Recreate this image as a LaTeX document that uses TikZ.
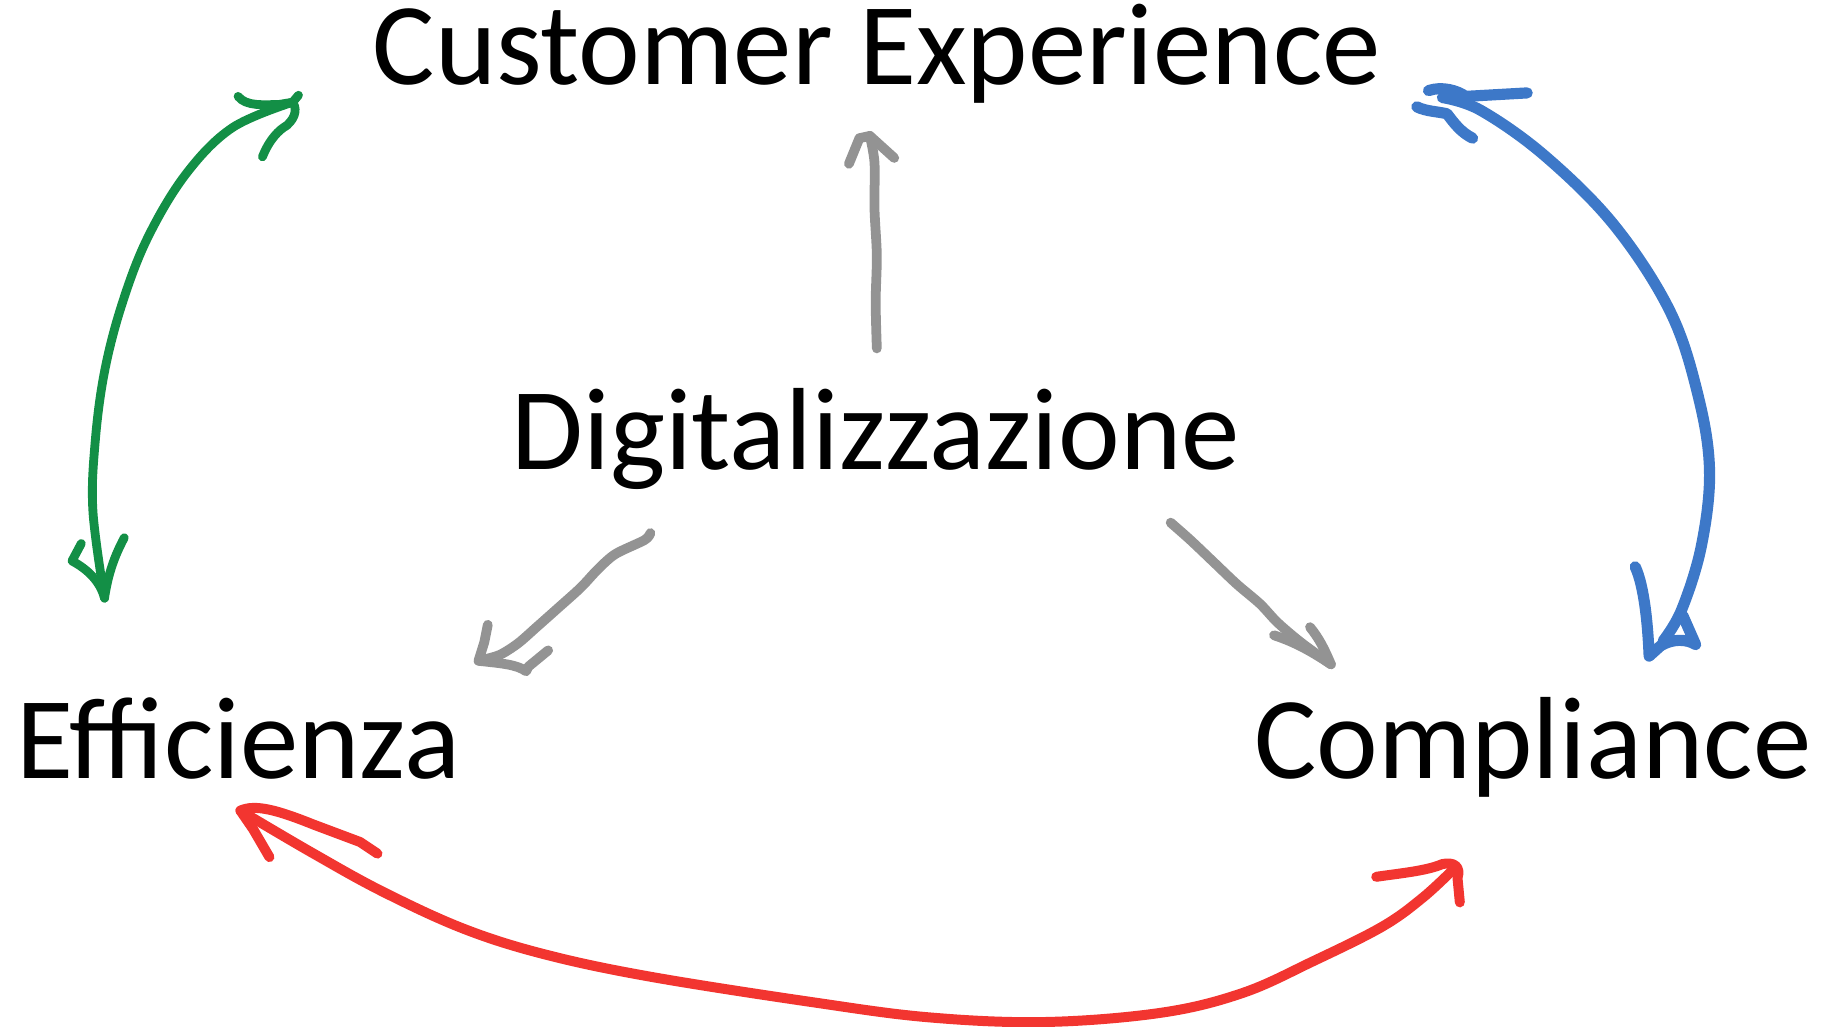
\documentclass[tikz,border=0pt]{standalone}
\usepackage{fontspec}
\setmainfont{Carlito}
\definecolor{cgreen}{HTML}{138F46}
\definecolor{cblue}{HTML}{3D78C8}
\definecolor{cred}{HTML}{F23530}
\definecolor{cgray}{HTML}{939393}
\tikzset{
  lbl/.style={font=\fontsize{50.3}{56}\selectfont, inner sep=0pt, anchor=base},
  gline/.style={cgreen, line width=3.8pt, line cap=round, line join=round},
  bline/.style={cblue, line width=4.8pt, line cap=round, line join=round},
  rline/.style={cred, line width=4.3pt, line cap=round, line join=round},
  kline/.style={cgray, line width=4.2pt, line cap=round, line join=round}
}
\begin{document}
\begin{tikzpicture}[x=0.5pt,y=-0.5pt]
\useasboundingbox (0,0) rectangle (1568,884);
% labels
\node[lbl] (ce) at (755,73) {Customer Experience};
\node[lbl] (dg) at (754,404) {Digitalizzazione};
\node[lbl] (ef) at (205,670) {Efficienza};
\node[lbl] (co) at (1320,670) {Compliance};
% endpoints
\coordinate (g1) at (90,515);
\coordinate (g2) at (252,88);
\coordinate (b1) at (1242,84);
\coordinate (b2) at (1432,552);
\coordinate (r1) at (207,698);
\coordinate (r2) at (1252,748);
\coordinate (k0) at (755,300);
\coordinate (k1) at (749,117);
\coordinate (k2s) at (560,459);
\coordinate (k2) at (412,569);
\coordinate (k3s) at (1008,450);
\coordinate (k3) at (1146,572);
% green
\draw[gline] plot[smooth, tension=0.6] coordinates {(g1) (80,440) (82,380) (90,320) (105,262) (127,205) (160,150) (200,110) (g2)};
\draw[gline] (70,468) -- (62,483) .. controls (75,490) and (86,500) .. (g1);
\draw[gline] (107,463) .. controls (98,480) and (93,495) .. (g1);
\draw[gline] (205,83) .. controls (212,92) and (228,90) .. (240,90) -- (g2) -- (257,82);
\draw[gline] (226,135) .. controls (232,120) and (240,112) .. (247,108) .. controls (256,100) and (255,92) .. (g2);
% blue
\draw[bline] plot[smooth, tension=0.6] coordinates {(b1) (1275,95) (1330,134) (1390,194) (1438,268) (1462,340) (1472,405) (1465,470) (1448,525) (b2)};
\draw[bline] (1230,78) .. controls (1242,74) and (1255,78) .. (1262,83) -- (1315,80);
\draw[bline] (1220,92) .. controls (1228,96) and (1238,96) .. (1246,98) .. controls (1252,106) and (1258,114) .. (1268,119);
\draw[bline] (1408,488) .. controls (1416,505) and (1419,540) .. (1420,565) -- (1430,556) .. controls (1440,550) and (1452,550) .. (1460,555) -- (1449,530);
% red
\draw[rline] plot[smooth, tension=0.6] coordinates {(r1) (270,735) (330,768) (400,800) (470,822) (560,841) (700,863) (800,876) (900,880) (1000,872) (1070,855) (1130,828) (1190,798) (1225,773) (r2)};
\draw[rline] (r1) .. controls (220,692) and (240,698) .. (270,710) -- (310,725) -- (325,735);
\draw[rline] (r1) -- (218,714) -- (232,738);
\draw[rline] (1185,755) .. controls (1205,752) and (1228,750) .. (1242,744) .. controls (1252,742) and (1258,746) .. (1255,756) -- (1257,777);
% gray
\draw[kline] plot[smooth, tension=0.5] coordinates {(k0) (754,260) (755,220) (753,180) (753,140) (k1)};
\draw[kline] (731,141) -- (740,119) -- (k1) -- (770,136);
\draw[kline] plot[smooth, tension=0.5] coordinates {(k2s) (555,465) (530,477) (515,490) (500,506) (480,524) (462,540) (446,554) (430,564) (k2)};
\draw[kline] (420,538) -- (417,553) -- (k2) .. controls (430,571) and (445,572) .. (453,578) -- (455,574) -- (472,560);
\draw[kline] plot[smooth, tension=0.5] coordinates {(k3s) (1025,465) (1045,484) (1065,503) (1085,520) (1100,536) (1120,553) (k3)};
\draw[kline] (1128,540) .. controls (1136,550) and (1140,558) .. (k3);
\draw[kline] (1097,547) .. controls (1112,552) and (1125,558) .. (k3);
\end{tikzpicture}
\end{document}
